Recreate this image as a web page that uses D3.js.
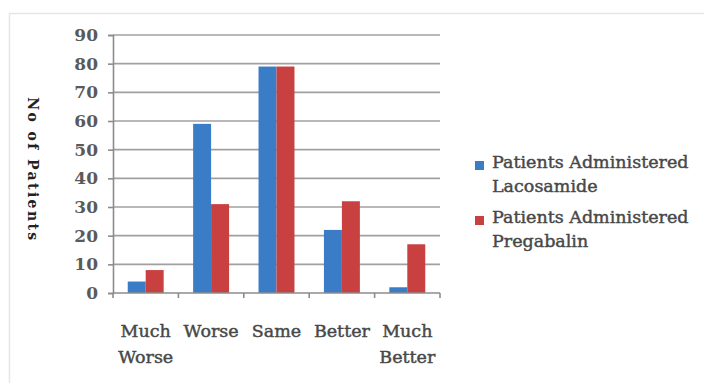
<!DOCTYPE html>
<html>
<head>
<meta charset="utf-8">
<script src="https://cdn.jsdelivr.net/npm/d3@7"></script>
<style>
  html, body { margin: 0; padding: 0; background: #fff; }
  svg { display: block; }
  text { font-family: "DejaVu Serif", "Liberation Serif", serif; }
</style>
</head>
<body>
<svg id="chart" width="704" height="383"></svg>
<script>
// Outcome categories and patient counts per treatment group
const categories = [["Much", "Worse"], ["Worse"], ["Same"], ["Better"], ["Much", "Better"]];
const seriesNames = [["Patients Administered", "Lacosamide"], ["Patients Administered", "Pregabalin"]];
const lacosamide = [4, 59, 79, 22, 2];
const pregabalin = [8, 31, 79, 32, 17];
const yTicks = [0, 10, 20, 30, 40, 50, 60, 70, 80, 90];
const colors = ["#3b7cc6", "#c8403f"];

const svg = d3.select("#chart");
const margin = { left: 113, right: 264, top: 35, bottom: 90 };
const W = 704, H = 383;
const x0 = margin.left, x1 = W - margin.right;
const yTop = margin.top, yBot = H - margin.bottom;
const textColor = "#484848";

// light outer frame
svg.append("line").attr("x1", 9).attr("x2", W).attr("y1", 13.5).attr("y2", 13.5)
  .attr("stroke", "#e6e6e6").attr("stroke-width", 1.5);
svg.append("line").attr("x1", 9.5).attr("x2", 9.5).attr("y1", 13).attr("y2", H)
  .attr("stroke", "#e6e6e6").attr("stroke-width", 1.5);

const x = d3.scaleBand().domain(d3.range(categories.length)).range([x0, x1]);
const xInner = d3.scaleBand().domain([0, 1]).range([0, x.bandwidth()]).paddingOuter(0.82).paddingInner(0);
const y = d3.scaleLinear().domain([0, 90]).range([yBot, yTop]);

// horizontal gridlines
svg.append("g").selectAll("line").data(yTicks.filter(d => d > 0)).join("line")
  .attr("x1", x0).attr("x2", x1)
  .attr("y1", d => y(d)).attr("y2", d => y(d))
  .attr("stroke", "#a0a0a0").attr("stroke-width", 1.7);

// bars
const data = [lacosamide, pregabalin];
data.forEach((vals, s) => {
  svg.append("g").selectAll("rect").data(vals).join("rect")
    .attr("x", (d, i) => x(i) + xInner(s))
    .attr("width", xInner.bandwidth())
    .attr("y", d => y(d))
    .attr("height", d => yBot - y(d))
    .attr("fill", colors[s]);
});

// y axis
const yAxis = d3.axisLeft(y).tickValues(yTicks).tickSize(5).tickPadding(10);
const gy = svg.append("g").attr("transform", `translate(${x0},0)`).call(yAxis);
gy.select(".domain").attr("stroke", "#8c8c8c").attr("stroke-width", 1.6);
gy.selectAll(".tick line").attr("stroke", "#8c8c8c").attr("stroke-width", 1.6);
gy.selectAll(".tick text").attr("fill", "#5a5a5a").attr("font-size", 17)
  .attr("font-weight", "bold").attr("font-family", "DejaVu Serif");

// x axis with boundary ticks between categories
const gx = svg.append("g").attr("transform", `translate(0,${yBot})`);
gx.append("line").attr("x1", x0).attr("x2", x1).attr("stroke", "#8c8c8c").attr("stroke-width", 1.6);
gx.selectAll("line.tk").data(d3.range(categories.length + 1)).join("line").attr("class", "tk")
  .attr("x1", i => x0 + i * x.bandwidth()).attr("x2", i => x0 + i * x.bandwidth())
  .attr("y1", 0).attr("y2", 5).attr("stroke", "#8c8c8c").attr("stroke-width", 1.6);
gx.selectAll("text").data(categories).join("text")
  .attr("text-anchor", "middle").attr("fill", textColor).attr("font-size", 17.5)
  .attr("stroke", textColor).attr("stroke-width", 0.45)
  .attr("transform", (d, i) => `translate(${x(i) + x.bandwidth() / 2},44)`)
  .selectAll("tspan").data(d => d).join("tspan")
  .attr("x", 0).attr("dy", (d, i) => i === 0 ? 0 : 26).text(d => d);

// y axis title, rotated
svg.append("text").attr("transform", "translate(28,170) rotate(90)")
  .attr("text-anchor", "middle").attr("font-size", 14).attr("font-weight", "bold")
  .attr("fill", "#222").attr("letter-spacing", 2.4).text("No of Patients");

// legend
const legend = svg.append("g").attr("transform", "translate(475,0)");
const legendRows = [153, 208];
seriesNames.forEach((lines, s) => {
  const g = legend.append("g").attr("transform", `translate(0,${legendRows[s]})`);
  g.append("rect").attr("x", 0).attr("y", 8).attr("width", 9).attr("height", 9).attr("fill", colors[s]);
  g.append("text").attr("x", 17).attr("y", 15).attr("font-size", 17.5)
    .attr("fill", textColor).attr("stroke", textColor).attr("stroke-width", 0.45)
    .selectAll("tspan").data(lines).join("tspan")
    .attr("x", 17).attr("dy", (d, i) => i === 0 ? 0 : 24).text(d => d);
});
</script>
</body>
</html>
